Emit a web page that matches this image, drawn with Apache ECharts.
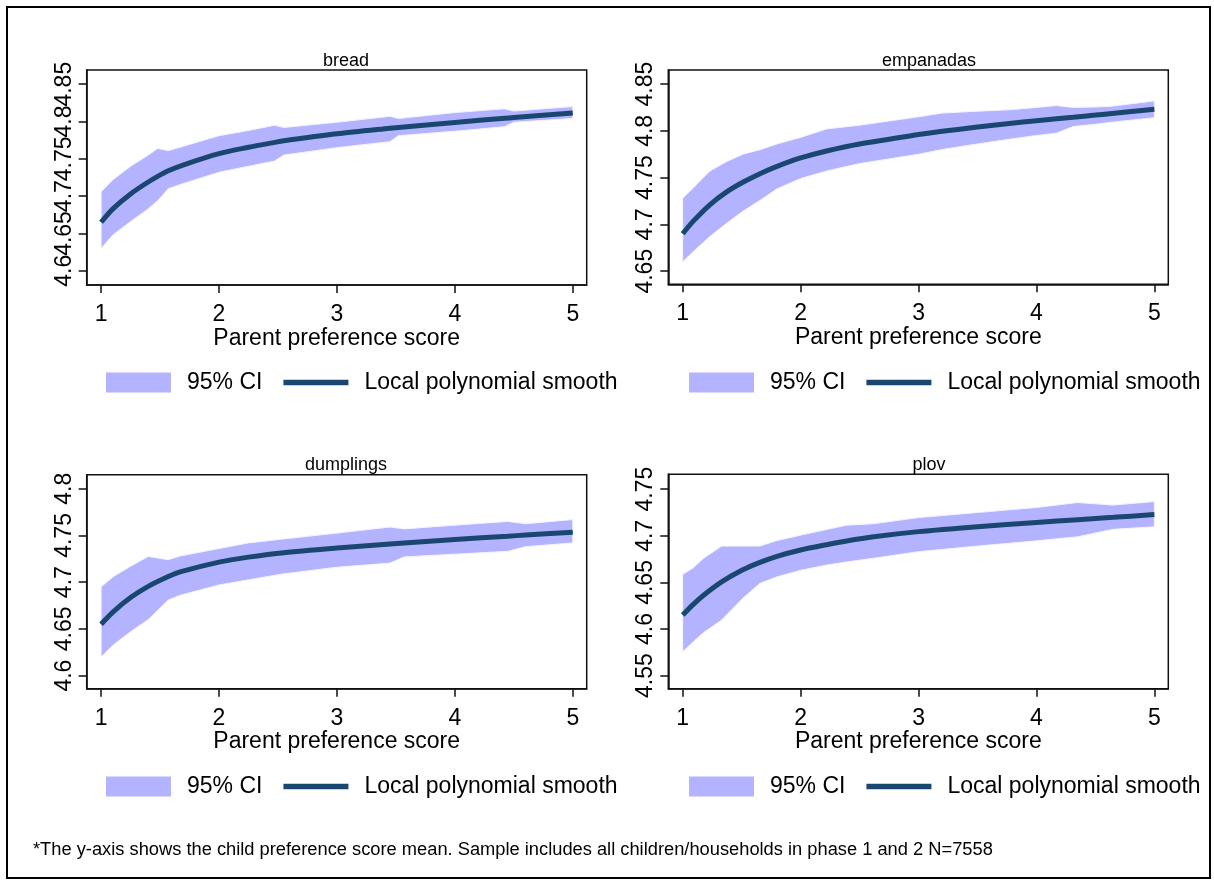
<!DOCTYPE html>
<html>
<head>
<meta charset="utf-8">
<script src="https://cdn.jsdelivr.net/npm/echarts@6/dist/echarts.min.js"></script>
<style>
html,body{margin:0;padding:0;background:#fff;}
#chart{width:1214px;height:882px;}
</style>
</head>
<body>
<div id="chart"></div>
<script>
// ---------------- DATA ----------------
const panelTitles = ['bread', 'empanadas', 'dumplings', 'plov'];
const xAxisTitle = 'Parent preference score';
const legendNames = ['95% CI', 'Local polynomial smooth'];
const xTickValues = [1, 2, 3, 4, 5];
const footnote = '*The y-axis shows the child preference score mean. Sample includes all children/households in phase 1 and 2 N=7558';

// bread
const breadScore = [1, 1.1, 1.25, 1.4, 1.48, 1.57, 1.7, 2, 2.25, 2.47, 2.55, 3, 3.45, 3.52, 4, 4.42, 4.5, 5];
const breadUpper = [4.706, 4.722, 4.740, 4.755, 4.764, 4.761, 4.767, 4.781, 4.788, 4.795, 4.792, 4.799, 4.807, 4.804, 4.812, 4.817, 4.814, 4.820];
const breadLower = [4.630, 4.648, 4.666, 4.683, 4.694, 4.710, 4.717, 4.732, 4.740, 4.747, 4.755, 4.765, 4.773, 4.781, 4.787, 4.793, 4.799, 4.804];
const breadFit   = [4.665, 4.683, 4.703, 4.719, 4.7265, 4.734, 4.742, 4.757, 4.7655, 4.772, 4.7742, 4.7835, 4.791, 4.792, 4.7988, 4.8043, 4.8053, 4.8115];
const breadTicks = [4.6, 4.65, 4.7, 4.75, 4.8, 4.85];

// empanadas
const empScore = [1, 1.09, 1.23, 1.37, 1.51, 1.66, 1.8, 2, 2.22, 2.5, 3, 3.2, 3.5, 3.77, 4, 4.17, 4.31, 4.5, 4.62, 5];
const empUpper = [4.728, 4.739, 4.757, 4.767, 4.775, 4.780, 4.786, 4.793, 4.802, 4.806, 4.815, 4.819, 4.821, 4.8225, 4.825, 4.827, 4.825, 4.8255, 4.826, 4.832];
const empLower = [4.660, 4.671, 4.687, 4.701, 4.714, 4.726, 4.738, 4.749, 4.757, 4.765, 4.775, 4.780, 4.786, 4.791, 4.795, 4.7975, 4.8046, 4.807, 4.809, 4.814];
const empFit   = [4.690, 4.7035, 4.721, 4.7345, 4.745, 4.7545, 4.762, 4.771, 4.7785, 4.786, 4.796, 4.7995, 4.804, 4.8078, 4.8108, 4.8129, 4.8145, 4.8168, 4.8183, 4.823];
const empTicks = [4.65, 4.7, 4.75, 4.8, 4.85];

// dumplings
const dumpScore = [1, 1.105, 1.25, 1.4, 1.57, 1.67, 2, 2.25, 2.53, 3, 3.45, 3.57, 4, 4.45, 4.6, 5];
const dumpUpper = [4.695, 4.706, 4.717, 4.7275, 4.724, 4.728, 4.736, 4.742, 4.746, 4.7525, 4.759, 4.757, 4.761, 4.765, 4.7625, 4.767];
const dumpLower = [4.620, 4.633, 4.647, 4.660, 4.681, 4.686, 4.697, 4.7025, 4.7086, 4.716, 4.7204, 4.727, 4.730, 4.733, 4.738, 4.742];
const dumpFit   = [4.655, 4.6685, 4.6835, 4.6955, 4.706, 4.711, 4.7215, 4.7268, 4.7313, 4.7365, 4.7408, 4.7419, 4.7456, 4.7492, 4.7504, 4.7535];
const dumpTicks = [4.6, 4.65, 4.7, 4.75, 4.8];

// plov
const plovScore = [1, 1.09, 1.175, 1.33, 1.51, 1.655, 1.8, 2, 2.22, 2.39, 2.62, 3, 3.5, 4, 4.35, 4.65, 5];
const plovUpper = [4.6586, 4.6657, 4.6757, 4.689, 4.689, 4.689, 4.695, 4.7007, 4.7068, 4.7114, 4.713, 4.7196, 4.725, 4.7304, 4.7357, 4.733, 4.7368];
const plovLower = [4.5757, 4.5864, 4.596, 4.6096, 4.633, 4.649, 4.656, 4.663, 4.6686, 4.672, 4.676, 4.683, 4.689, 4.6946, 4.699, 4.707, 4.7096];
const plovFit   = [4.615, 4.6265, 4.636, 4.6505, 4.6635, 4.6715, 4.678, 4.6848, 4.6905, 4.6945, 4.699, 4.7045, 4.7098, 4.7143, 4.7173, 4.7198, 4.7228];
const plovTicks = [4.55, 4.6, 4.65, 4.7, 4.75];

// ---------------- LAYOUT / STYLE ----------------
const panels = [
  {score: breadScore, upper: breadUpper, lower: breadLower, fit: breadFit, ticks: breadTicks, yMin: 4.581, yMax: 4.869,
   grid: {left: 86.7, top: 70, width: 500, height: 215}, titleX: 346, titleY: 52, legendX: 106, legendY: 371},
  {score: empScore, upper: empUpper, lower: empLower, fit: empFit, ticks: empTicks, yMin: 4.636, yMax: 4.865,
   grid: {left: 668.3, top: 70, width: 500, height: 214.3}, titleX: 929, titleY: 52, legendX: 689, legendY: 371},
  {score: dumpScore, upper: dumpUpper, lower: dumpLower, fit: dumpFit, ticks: dumpTicks, yMin: 4.586, yMax: 4.815,
   grid: {left: 86.7, top: 474.7, width: 500, height: 214}, titleX: 346, titleY: 456, legendX: 106, legendY: 775},
  {score: plovScore, upper: plovUpper, lower: plovLower, fit: plovFit, ticks: plovTicks, yMin: 4.536, yMax: 4.766,
   grid: {left: 668.3, top: 474.3, width: 500, height: 214.4}, titleX: 929, titleY: 456, legendX: 689, legendY: 775}
];
const X_MIN = 0.878, X_MAX = 5.118;
const FONT = 'Liberation Sans, Arial, Helvetica, sans-serif';
const BIG = 23;
const CI_COLOR = '#b3b3ff';
const LINE_COLOR = '#1a476f';

const chart = echarts.init(document.getElementById('chart'), null, {renderer: 'canvas'});

const grids = [], xAxes = [], yAxes = [], extraYAxes = [], series = [], titles = [], legends = [];

function yLabelStyle(values) {
  return {show: true, rotate: 90, fontFamily: FONT, fontSize: BIG, color: '#000', margin: 11, customValues: values,
          showMinLabel: true, showMaxLabel: true, hideOverlap: false, formatter: v => String(v)};
}

panels.forEach((p, i) => {
  grids.push(Object.assign({show: true, borderColor: '#111', borderWidth: 1.5, backgroundColor: '#fff', containLabel: false}, p.grid));
  xAxes.push({
    type: 'value', gridIndex: i, min: X_MIN, max: X_MAX,
    name: xAxisTitle, nameLocation: 'middle', nameGap: 41,
    nameTextStyle: {fontFamily: FONT, fontSize: BIG, color: '#000'},
    axisLine: {show: true, lineStyle: {color: '#111', width: 1.5}},
    axisTick: {show: true, length: 8, lineStyle: {color: '#111', width: 1.5}, customValues: xTickValues},
    axisLabel: {show: true, fontFamily: FONT, fontSize: BIG, color: '#000', margin: 18, customValues: xTickValues,
                showMinLabel: true, showMaxLabel: true, hideOverlap: false, formatter: v => String(v)},
    splitLine: {show: false}
  });
  // labels alternate between two coincident axes so that ECharts keeps every (overlapping) label, like the original
  const evenLabels = p.ticks.filter((t, k) => k % 2 === 0);
  const oddLabels = p.ticks.filter((t, k) => k % 2 === 1);
  yAxes.push({
    type: 'value', gridIndex: i, min: p.yMin, max: p.yMax, position: 'left',
    axisLine: {show: true, lineStyle: {color: '#111', width: 1.5}},
    axisTick: {show: true, length: 8, lineStyle: {color: '#111', width: 1.5}, customValues: p.ticks},
    axisLabel: yLabelStyle(evenLabels),
    splitLine: {show: false}
  });
  extraYAxes.push({
    type: 'value', gridIndex: i, min: p.yMin, max: p.yMax, position: 'left', offset: 0,
    axisLine: {show: false}, axisTick: {show: false},
    axisLabel: yLabelStyle(oddLabels),
    splitLine: {show: false}
  });
  series.push({
    type: 'custom', name: legendNames[0], xAxisIndex: i, yAxisIndex: i, z: 2,
    itemStyle: {color: CI_COLOR},
    encode: {x: 0, y: [1, 2]},
    data: p.score.map((s, k) => [s, p.lower[k], p.upper[k]]),
    renderItem: function (params, api) {
      if (params.dataIndex !== 0) return null;
      const pts = [];
      for (let k = 0; k < p.score.length; k++) pts.push(api.coord([p.score[k], p.upper[k]]));
      for (let k = p.score.length - 1; k >= 0; k--) pts.push(api.coord([p.score[k], p.lower[k]]));
      return {type: 'polygon', shape: {points: pts}, style: {fill: CI_COLOR, stroke: '#f3f3ff', lineWidth: 1}};
    },
    silent: true
  });
  series.push({
    type: 'line', name: legendNames[1], xAxisIndex: i, yAxisIndex: i, z: 3,
    data: p.score.map((s, k) => [s, p.fit[k]]),
    symbol: 'none', smooth: 0.3,
    lineStyle: {color: LINE_COLOR, width: 5},
    itemStyle: {color: LINE_COLOR},
    silent: true
  });
  titles.push({
    text: panelTitles[i], left: p.titleX, top: p.titleY, textAlign: 'center', padding: 0,
    textStyle: {fontFamily: FONT, fontSize: 18, fontWeight: 'normal', color: '#000'}
  });
  legends.push({
    left: p.legendX, top: p.legendY, orient: 'horizontal', padding: 0,
    itemWidth: 65, itemHeight: 20, itemGap: 21, selectedMode: false,
    textStyle: {fontFamily: FONT, fontSize: BIG, color: '#000', padding: [0, 0, 0, 11]},
    data: [
      {name: legendNames[0], icon: 'rect', itemStyle: {color: CI_COLOR}},
      {name: legendNames[1], icon: 'path://M0,0L60,0L60,5L0,5Z', itemStyle: {color: LINE_COLOR}}
    ]
  });
});

chart.setOption({
  backgroundColor: '#fff',
  animation: false,
  title: titles,
  legend: legends,
  grid: grids,
  xAxis: xAxes,
  yAxis: yAxes.concat(extraYAxes),
  series: series,
  graphic: [
    {type: 'rect', shape: {x: 7, y: 7, width: 1203, height: 871}, style: {fill: 'none', stroke: '#000', lineWidth: 2}, silent: true, z: 100},
    {type: 'text', left: 33, top: 841, style: {text: footnote, fontFamily: FONT, fontSize: 18.3, fill: '#000'}, silent: true}
  ]
});
</script>
</body>
</html>
